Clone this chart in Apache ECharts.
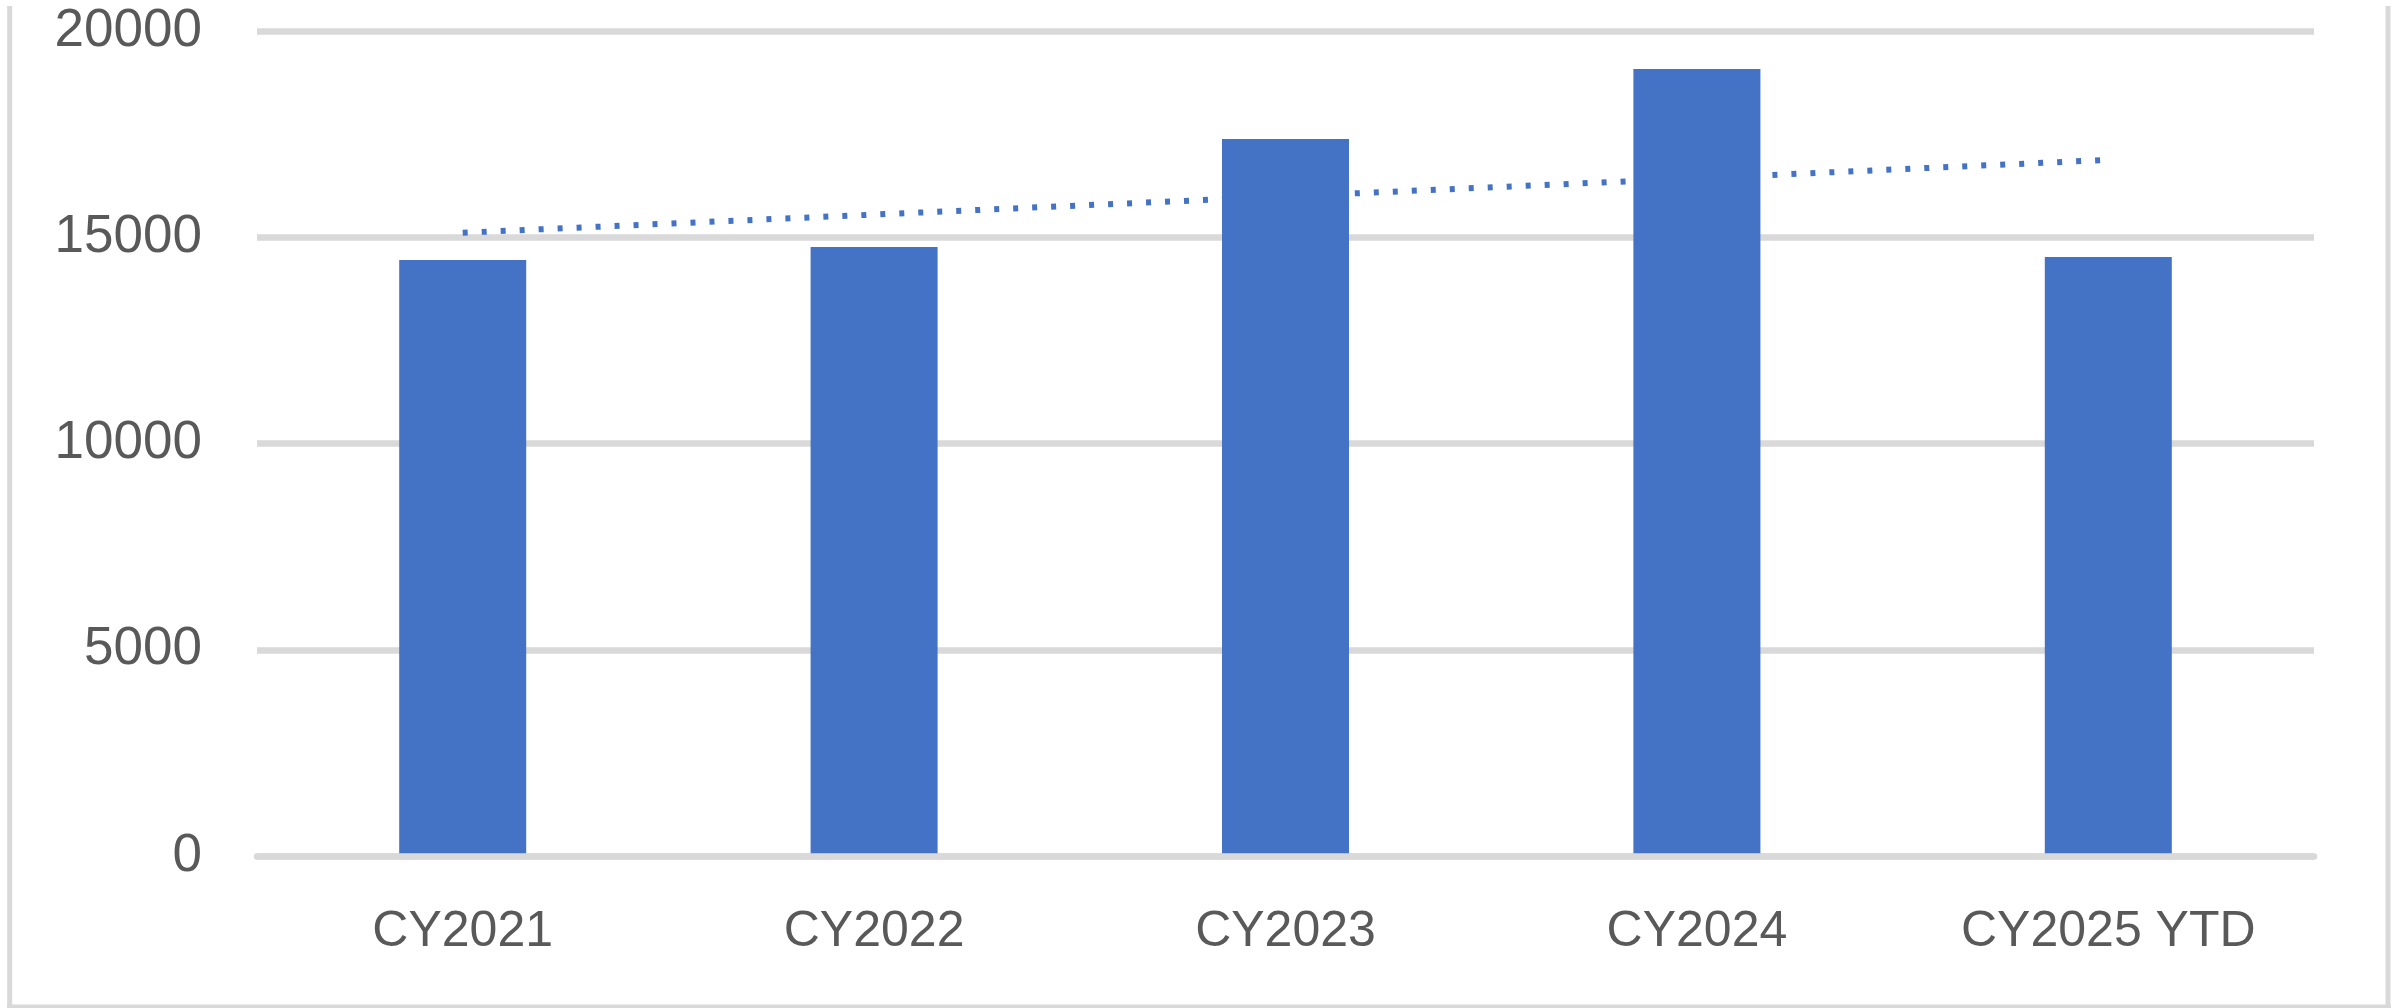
<!DOCTYPE html>
<html>
<head>
<meta charset="utf-8">
<script src="https://cdn.jsdelivr.net/npm/echarts@6/dist/echarts.min.js"></script>
<style>
html,body{margin:0;padding:0;background:#fff;}
#c{width:2402px;height:1008px;}
</style>
</head>
<body>
<div id="c"></div>
<script>
const categories = ['CY2021', 'CY2022', 'CY2023', 'CY2024', 'CY2025 YTD'];
const values = [14450, 14765, 17380, 19080, 14520];
const trendValues = [15110, 15550, 15990, 16430, 16875];
const yTicks = [0, 5000, 10000, 15000, 20000];

const chart = echarts.init(document.getElementById('c'), null, {renderer: 'canvas'});
const font = '"Liberation Sans", Arial, sans-serif';
chart.setOption({
  animation: false,
  backgroundColor: '#ffffff',
  grid: {left: 257, right: 88, top: 31, bottom: 152, containLabel: false},
  xAxis: {
    type: 'category',
    data: categories,
    z: 5,
    axisTick: {show: false},
    axisLine: {show: true, lineStyle: {color: '#D9D9D9', width: 6.5}},
    axisLabel: {color: '#595959', fontSize: 50, fontFamily: font, margin: 51, lineHeight: 50}
  },
  yAxis: {
    type: 'value',
    min: yTicks[0],
    max: yTicks[yTicks.length - 1],
    interval: yTicks[1] - yTicks[0],
    axisLine: {show: false},
    axisTick: {show: false},
    splitLine: {lineStyle: {color: '#D9D9D9', width: 6.5}},
    axisLabel: {color: '#595959', fontSize: 53, fontFamily: font, margin: 55,
      formatter: function (v) { return String(v); }}
  },
  series: [
    {
      type: 'line',
      data: trendValues,
      z: 1,
      symbol: 'none',
      lineStyle: {color: '#4472C4', width: 6, type: [5, 14], cap: 'butt'}
    },
    {
      type: 'bar',
      data: values,
      z: 3,
      barWidth: 127,
      itemStyle: {color: '#4472C4'}
    }
  ],
  graphic: [
    {type: 'line', shape: {x1: 9.7, y1: 6, x2: 9.7, y2: 1008}, style: {stroke: '#D9D9D9', lineWidth: 5}, z: 10},
    {type: 'line', shape: {x1: 2388, y1: 6, x2: 2388, y2: 1008}, style: {stroke: '#D9D9D9', lineWidth: 5}, z: 10},
    {type: 'line', shape: {x1: 7, y1: 1007, x2: 2391, y2: 1007}, style: {stroke: '#D9D9D9', lineWidth: 5}, z: 10}
  ]
});
</script>
</body>
</html>
